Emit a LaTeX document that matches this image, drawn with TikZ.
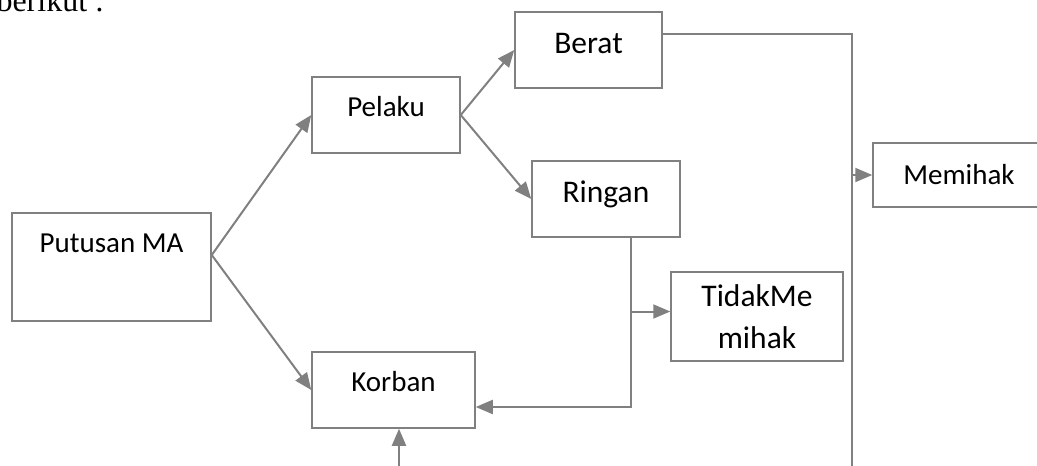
\documentclass[tikz,border=0pt]{standalone}
\usepackage{fontspec}
\setmainfont{Carlito}
\newfontfamily\timesfont{Liberation Serif}
\usetikzlibrary{arrows.meta}
\definecolor{linegray}{RGB}{128,128,128}

\begin{document}
\begin{tikzpicture}[x=1pt,y=-1pt,
		box/.style={draw=linegray,line width=1.5pt,inner sep=0pt},
		smallfont/.style={font=\fontsize{29}{35}\selectfont},
		bigfont/.style={font=\fontsize{31.5}{42}\selectfont},
		small/.style={smallfont,text height=18.3pt},
		large/.style={bigfont,text height=19.9pt},
		lift/.style={text depth=#1},
		link/.style={draw=linegray,line width=2pt},
		arrow/.style={link,-{Triangle[length=17pt,width=14pt]}}]
		\useasboundingbox (0,0) rectangle (1037,466);
		\node[anchor=base west,font=\timesfont\fontsize{32}{38}\selectfont] (intro) at (-7,11) {berikut :};
		\node[box,small,lift=48pt,minimum width=199pt,minimum height=108pt] (pm) at (111.5,267) {Putusan MA};
		\node[box,small,lift=15pt,minimum width=148pt,minimum height=76pt] (pel) at (386,115) {Pelaku};
		\node[box,small,lift=16pt,minimum width=163pt,minimum height=76pt] (kor) at (393.5,390) {Korban};
		\node[box,large,lift=12pt,minimum width=147pt,minimum height=76pt] (ber) at (588.5,50) {Berat};
		\node[box,large,lift=12pt,minimum width=148pt,minimum height=76pt] (rin) at (606,199) {Ringan};
		\node[box,small,lift=0pt,minimum width=172pt,minimum height=64pt] (mem) at (959,175) {Memihak};
		\node[box,bigfont,align=center,minimum width=172pt,minimum height=89pt] (tid) at (757,316.5) {TidakMe\\mihak};
		\coordinate (pmout) at ([yshift=12pt]pm.east);
		\draw[arrow] (pmout) -- (pel.west);
		\draw[arrow] (pmout) -- (kor.west);
		\draw[arrow] (pel.east) -- (ber.west);
		\draw[arrow] (pel.east) -- (rin.west);
		\coordinate (berend) at (852,466);
		\draw[link] ([yshift=16pt]ber.east) -| (berend);
		\draw[arrow] (mem.west -| berend) -- (mem.west);
		\coordinate (rinout) at ([xshift=25pt]rin.south);
		\draw[arrow] (rinout) |- ([yshift=-17pt]kor.east);
		\draw[arrow] ([yshift=5pt]tid.west -| rinout) -- ([yshift=5pt]tid.west);
		\coordinate (korin) at (399,466);
		\draw[arrow] (korin) -- (korin |- kor.south);
	\end{tikzpicture}
\end{document}
